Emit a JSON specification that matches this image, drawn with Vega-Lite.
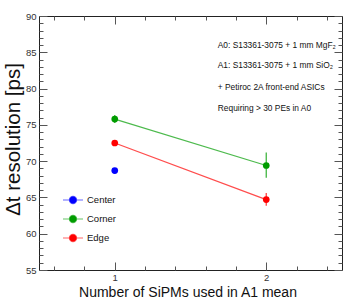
{
  "$schema": "https://vega.github.io/schema/vega-lite/v6.json",
  "width": 303,
  "height": 254,
  "autosize": {"type": "none"},
  "padding": {"left": 39, "top": 16, "right": 10, "bottom": 32},
  "background": "white",
  "config": {
    "view": {"stroke": "#222222", "strokeWidth": 1},
    "axis": {"domain": false, "grid": false, "tickColor": "#555555", "tickWidth": 1, "labelColor": "#333333", "labelFont": "Liberation Sans", "labelFontSize": 9.5, "titleFont": "Liberation Sans", "titleFontWeight": "normal", "titleColor": "#111111"},
    "text": {"font": "Liberation Sans", "fontWeight": "normal"}
  },
  "data": {
    "values": [
      {"series": "Center", "n": 1, "y": 68.7, "lo": 68.35, "hi": 69.05},
      {"series": "Corner", "n": 1, "y": 75.8, "lo": 75.25, "hi": 76.35},
      {"series": "Edge", "n": 1, "y": 72.5, "lo": 72.1, "hi": 72.9},
      {"series": "Corner", "n": 2, "y": 69.4, "lo": 67.7, "hi": 71.2},
      {"series": "Edge", "n": 2, "y": 64.7, "lo": 63.85, "hi": 65.6}
    ]
  },
  "resolve": {"axis": {"x": "independent", "y": "independent"}},
  "layer": [
    {
      "mark": {"type": "rule", "strokeWidth": 1.3, "opacity": 0.75},
      "encoding": {
        "x": {"field": "n", "type": "quantitative", "scale": {"domain": [0.5, 2.5], "nice": false, "zero": false},
          "axis": {"orient": "bottom", "values": [0.6, 0.8, 1, 1.2, 1.4, 1.6, 1.8, 2, 2.2, 2.4], "labelExpr": "abs(datum.value-1)<0.01 || abs(datum.value-2)<0.01 ? format(datum.value,'d') : ''",
            "tickSize": {"condition": {"test": "abs(datum.value-1)<0.01 || abs(datum.value-2)<0.01", "value": -8}, "value": -4},
            "labelPadding": 10, "labelFlush": false, "labelOverlap": false,
            "title": "Number of SiPMs used in A1 mean", "titleFontSize": 14, "titleX": 148.5, "titleY": 26, "titleAlign": "center", "titleBaseline": "alphabetic", "titleAnchor": null}},
        "y": {"field": "lo", "type": "quantitative", "scale": {"domain": [55, 90], "nice": false, "zero": false},
          "axis": {"orient": "left", "values": [55,56,57,58,59,60,61,62,63,64,65,66,67,68,69,70,71,72,73,74,75,76,77,78,79,80,81,82,83,84,85,86,87,88,89,90],
            "labelExpr": "datum.value % 5 === 0 ? datum.label : ''",
            "tickSize": {"condition": {"test": "datum.value % 5 === 0", "value": -8}, "value": -4},
            "labelPadding": 11, "labelFlush": false, "labelOverlap": false,
            "title": "Δt resolution [ps]", "titleFontSize": 20.5, "titleX": -26, "titleY": 123, "titleAngle": -90, "titleAlign": "center", "titleBaseline": "middle", "titleAnchor": null}},
        "y2": {"field": "hi"},
        "color": {"field": "series", "type": "nominal", "scale": {"domain": ["Center", "Corner", "Edge"], "range": ["#0000ff", "#009c00", "#ff0000"]},
          "legend": {"orient": "none", "legendX": 23, "legendY": 173, "title": null, "padding": 0,
            "symbolType": "M-1,0H1M0.36,0A0.36,0.36,0,1,1,-0.36,0A0.36,0.36,0,1,1,0.36,0Z",
            "symbolSize": 400, "symbolStrokeWidth": 1.2, "symbolOpacity": 1,
            "labelFont": "Liberation Sans", "labelFontSize": 9.5, "labelColor": "#111111", "labelOffset": 3, "rowPadding": 2,
            "encode": {"symbols": {"update": {"stroke": {"scale": "color", "field": "value"}, "fill": {"scale": "color", "field": "value"}, "strokeOpacity": {"value": 0.6}, "fillOpacity": {"value": 1}, "opacity": {"value": 1}}}}}}
      }
    },
    {
      "mark": {"type": "line", "strokeWidth": 1.3, "opacity": 0.7},
      "encoding": {
        "x": {"field": "n", "type": "quantitative",
          "axis": {"orient": "top", "values": [0.6, 0.8, 1, 1.2, 1.4, 1.6, 1.8, 2, 2.2, 2.4], "labels": false, "title": null,
            "tickSize": {"condition": {"test": "abs(datum.value-1)<0.01 || abs(datum.value-2)<0.01", "value": -8}, "value": -4}}},
        "y": {"field": "y", "type": "quantitative",
          "axis": {"orient": "right", "values": [55,56,57,58,59,60,61,62,63,64,65,66,67,68,69,70,71,72,73,74,75,76,77,78,79,80,81,82,83,84,85,86,87,88,89,90], "labels": false, "title": null,
            "tickSize": {"condition": {"test": "datum.value % 5 === 0", "value": -8}, "value": -4}}},
        "color": {"field": "series", "type": "nominal"}
      }
    },
    {
      "mark": {"type": "circle", "size": 45, "opacity": 1},
      "encoding": {
        "x": {"field": "n", "type": "quantitative", "axis": null},
        "y": {"field": "y", "type": "quantitative", "axis": null},
        "color": {"field": "series", "type": "nominal"}
      }
    },
    {
      "data": {"values": [{"t": "A0: S13361-3075 + 1 mm MgF₂"}]},
      "mark": {"type": "text", "align": "left", "baseline": "middle", "font": "Liberation Sans", "fontWeight": "normal", "fontSize": 8.4, "color": "#111111"},
      "encoding": {
        "x": {"datum": 1.68, "type": "quantitative", "axis": null},
        "y": {"datum": 86.0, "type": "quantitative", "axis": null},
        "text": {"field": "t"}
      }
    },
    {
      "data": {"values": [{"t": "A1: S13361-3075 + 1 mm SiO₂"}]},
      "mark": {"type": "text", "align": "left", "baseline": "middle", "font": "Liberation Sans", "fontWeight": "normal", "fontSize": 8.4, "color": "#111111"},
      "encoding": {
        "x": {"datum": 1.68, "type": "quantitative", "axis": null},
        "y": {"datum": 83.25, "type": "quantitative", "axis": null},
        "text": {"field": "t"}
      }
    },
    {
      "data": {"values": [{"t": "+ Petiroc 2A front-end ASICs"}]},
      "mark": {"type": "text", "align": "left", "baseline": "middle", "font": "Liberation Sans", "fontWeight": "normal", "fontSize": 8.4, "color": "#111111"},
      "encoding": {
        "x": {"datum": 1.68, "type": "quantitative", "axis": null},
        "y": {"datum": 80.25, "type": "quantitative", "axis": null},
        "text": {"field": "t"}
      }
    },
    {
      "data": {"values": [{"t": "Requiring > 30 PEs in A0"}]},
      "mark": {"type": "text", "align": "left", "baseline": "middle", "font": "Liberation Sans", "fontWeight": "normal", "fontSize": 8.4, "color": "#111111"},
      "encoding": {
        "x": {"datum": 1.68, "type": "quantitative", "axis": null},
        "y": {"datum": 77.35, "type": "quantitative", "axis": null},
        "text": {"field": "t"}
      }
    }
  ]
}
